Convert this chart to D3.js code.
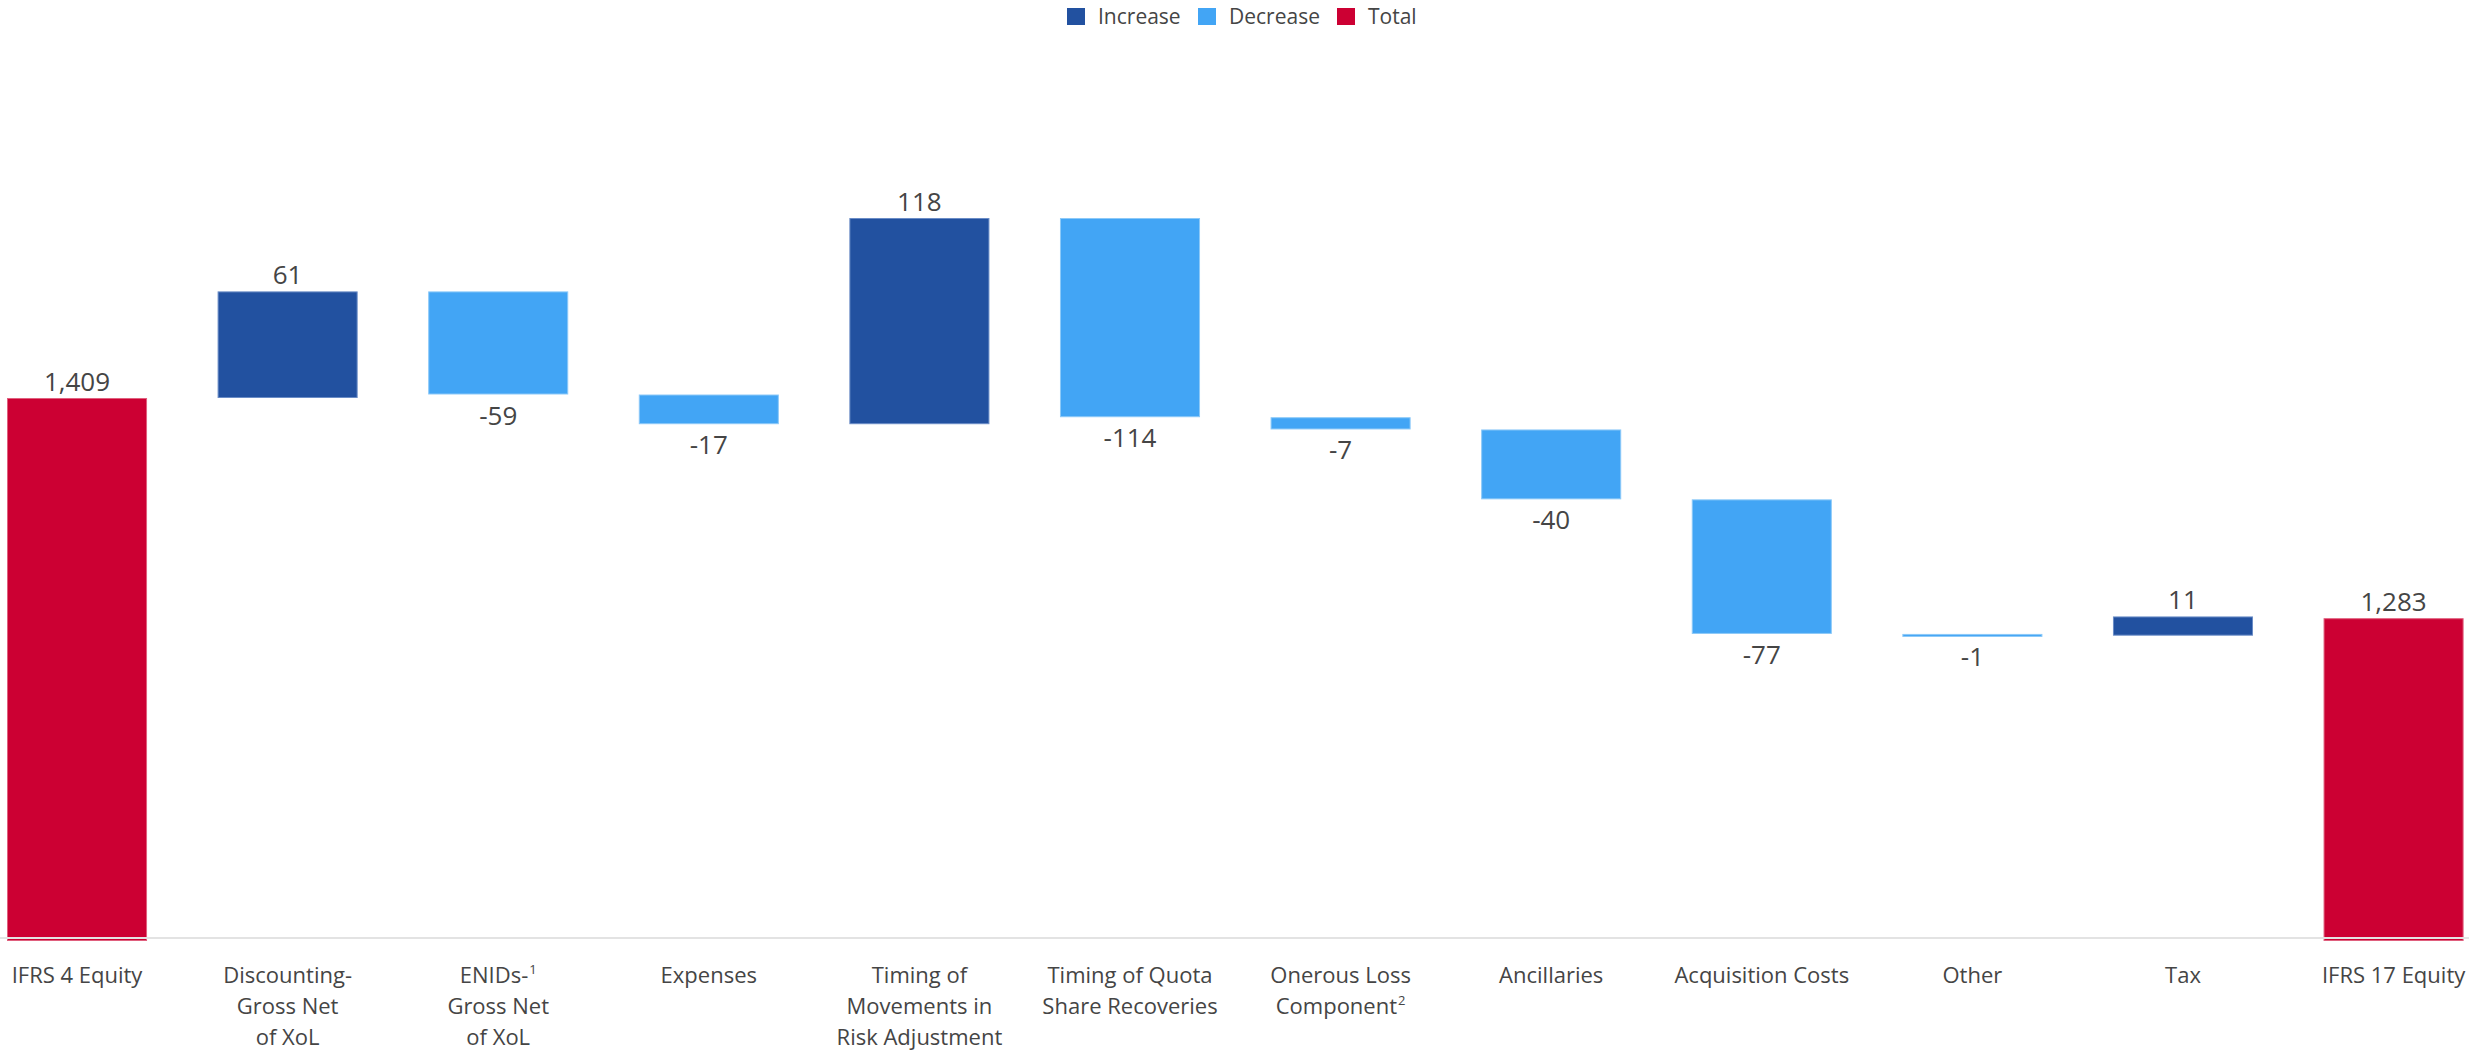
<!DOCTYPE html>
<html>
<head>
<meta charset="utf-8">
<script src="https://cdn.jsdelivr.net/npm/d3@7"></script>
<style>
  body { margin: 0; background: #fff; }
  svg text { font-family: "Segoe UI", "Open Sans", sans-serif; fill: #454545; }
</style>
</head>
<body>
<div id="chart"></div>
<script>
// category labels, "|" splits lines, "^n" is a superscript
var categories = [
	"IFRS 4 Equity",
	"Discounting-|Gross Net|of XoL",
	"ENIDs-^1|Gross Net|of XoL",
	"Expenses",
	"Timing of|Movements in|Risk Adjustment",
	"Timing of Quota|Share Recoveries",
	"Onerous Loss|Component^2",
	"Ancillaries",
	"Acquisition Costs",
	"Other",
	"Tax",
	"IFRS 17 Equity"
];
var values = [1409, 61, -59, -17, 118, -114, -7, -40, -77, -1, 11, 1283];
var isTotal = [true, false, false, false, false, false, false, false, false, false, false, true];
var legendItems = ["Increase", "Decrease", "Total"];
var colors = { Increase: "#2251a0", Decrease: "#42a5f5", Total: "#cc0033" };
var strokes = { Increase: "#6a8cc6", Decrease: "#8cc9f8", Total: "#e0607e" };

var W = 2469, H = 1052;
var axisY = 938;

// running waterfall
var run = 0;
var bars = values.map(function(v, i) {
	var d = { cat: categories[i], value: v };
	if (isTotal[i]) {
		d.type = "Total"; d.lo = 1100; d.hi = v; run = v;
	} else {
		d.type = v >= 0 ? "Increase" : "Decrease";
		d.lo = Math.min(run, run + v); d.hi = Math.max(run, run + v);
		run += v;
	}
	return d;
});

var x = d3.scaleBand()
	.domain(categories)
	.range([7, 2463.6])
	.paddingInner(0.335)
	.paddingOuter(0);

var y = d3.scaleLinear()
	.domain([1100, 1512])
	.range([axisY, 218]);

var svg = d3.select("#chart").append("svg")
	.attr("width", W)
	.attr("height", H);

// bars
svg.append("g").selectAll("rect")
	.data(bars)
	.enter().append("rect")
	.attr("x", function(d) { return x(d.cat) + 0.5; })
	.attr("width", x.bandwidth() - 1)
	.attr("y", function(d) { return y(d.hi) + 0.5; })
	.attr("height", function(d) {
		var h = (d.type == "Total" ? axisY + 3 : y(d.lo)) - y(d.hi) - 1;
		return Math.max(h, 2);
	})
	.attr("fill", function(d) { return colors[d.type]; })
	.attr("stroke", function(d) { return strokes[d.type]; })
	.attr("stroke-width", 1);

// baseline
svg.append("line")
	.attr("x1", 0).attr("x2", W)
	.attr("y1", axisY).attr("y2", axisY)
	.attr("stroke", "#e3e3e3")
	.attr("stroke-width", 2);

// value labels
var fmt = d3.format(",");
svg.append("g").selectAll("text")
	.data(bars)
	.enter().append("text")
	.attr("x", function(d) { return x(d.cat) + x.bandwidth() / 2; })
	.attr("y", function(d) {
		return d.type == "Decrease" ? y(d.lo) + 30 : y(d.hi) - 7;
	})
	.attr("text-anchor", "middle")
	.style("font-size", "26px")
	.text(function(d) { return fmt(d.value).replace("\u2212", "-"); });

// category labels
var catG = svg.append("g").selectAll("text")
	.data(bars)
	.enter().append("text")
	.attr("text-anchor", "middle")
	.style("font-size", "22px")
	.attr("transform", function(d) {
		return "translate(" + (x(d.cat) + x.bandwidth() / 2) + ",983)";
	});

catG.each(function(d) {
	var t = d3.select(this);
	d.cat.split("|").forEach(function(line, li) {
		var parts = line.split("^");
		t.append("tspan")
			.attr("x", 0)
			.attr("y", li * 31)
			.text(parts[0]);
		if (parts.length > 1) {
			t.append("tspan")
				.attr("dy", -9)
				.attr("dx", 1)
				.style("font-size", "13px")
				.text(parts[1]);
		}
	});
});

// legend
var legX = [1067, 1198, 1337];
var leg = svg.append("g").selectAll("g")
	.data(legendItems)
	.enter().append("g")
	.attr("transform", function(d, i) { return "translate(" + legX[i] + ",8)"; });

leg.append("rect")
	.attr("width", 18).attr("height", 17)
	.attr("fill", function(d) { return colors[d]; });

leg.append("text")
	.attr("x", 31).attr("y", 16)
	.style("font-size", "21px")
	.text(function(d) { return d; });
</script>
</body>
</html>
